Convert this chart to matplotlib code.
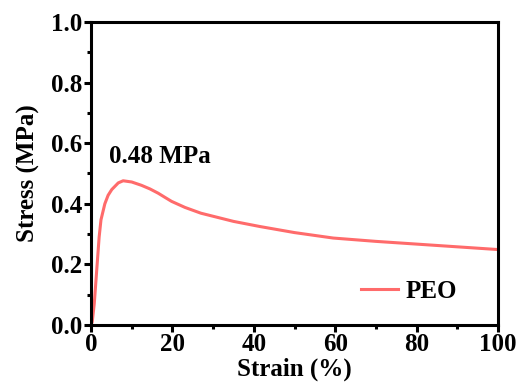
import matplotlib
matplotlib.use("Agg")
import matplotlib.pyplot as plt
from matplotlib.ticker import MultipleLocator, FormatStrFormatter

strain = [0, 0.3, 0.8, 1.4, 2.0, 2.45, 3.4, 4.2, 5.1, 6.7, 7.9, 10.0, 12.4, 14.5, 16.5, 18.2, 19.8,
          23.1, 27.0, 35.0, 41.5, 50.0, 59.5, 70.0, 80.0, 90.0, 100.0]
stress = [0, 0.01, 0.07, 0.18, 0.29, 0.347, 0.40, 0.428, 0.447, 0.469, 0.476, 0.472, 0.461,
          0.449, 0.435, 0.421, 0.408, 0.388, 0.369, 0.342, 0.325, 0.305, 0.287, 0.276, 0.267, 0.258, 0.249]
series_name = "PEO"
peak_label = "0.48 MPa"

plt.rcParams['font.family'] = ['Liberation Serif', 'DejaVu Serif']
plt.rcParams['font.weight'] = 'bold'

fig = plt.figure(figsize=(5.19, 3.88), dpi=100)
ax = fig.add_axes([91/519, 1-325/388, (498-91)/519, (325-22)/388])
ax.plot(strain, stress, color='#FF6B6B', lw=2.2, label=series_name)
ax.set_xlim(0, 100)
ax.set_ylim(0, 1.0)
ax.xaxis.set_major_locator(MultipleLocator(20))
ax.xaxis.set_minor_locator(MultipleLocator(10))
ax.yaxis.set_major_locator(MultipleLocator(0.2))
ax.yaxis.set_minor_locator(MultipleLocator(0.1))
ax.yaxis.set_major_formatter(FormatStrFormatter('%.1f'))
for s in ax.spines.values():
    s.set_linewidth(2.2)
ax.tick_params(which='major', direction='out', length=5, width=2.2, labelsize=18, pad=1)
ax.tick_params(which='minor', direction='out', length=3, width=2.2)
for lab in ax.get_xticklabels() + ax.get_yticklabels():
    lab.set_fontweight('bold')
ax.set_xlabel('Strain (%)', fontsize=18, fontweight='bold', labelpad=1)
ax.set_ylabel('Stress (MPa)', fontsize=18, fontweight='bold', labelpad=8)
ax.text(4.5, 0.555, peak_label, fontsize=18, fontweight='bold', va='center', ha='left')
leg = ax.legend(loc='lower right', frameon=False, fontsize=18, handlelength=1.5,
                handletextpad=0.3, bbox_to_anchor=(0.955, 0.0))
fig.savefig('out.png', dpi=100)
